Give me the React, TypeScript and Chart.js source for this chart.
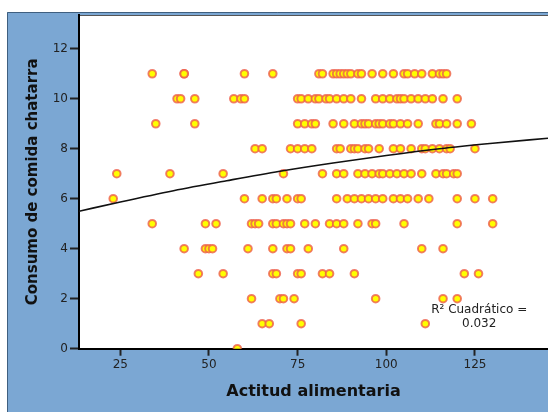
import React, { useEffect, useRef } from "react";
import { Chart, registerables } from "chart.js";

Chart.register(...registerables);

// Consumo de comida chatarra (y) -> Actitud alimentaria values (x)
const consumo11 = [34, 43, 43, 60, 68, 81, 82, 85, 86, 87, 88, 89, 90, 92, 93, 96, 99, 102, 105, 106, 108, 110, 113, 115, 116, 117];
const consumo10 = [41, 42, 46, 57, 59, 60, 75, 76, 78, 80, 81, 83, 84, 86, 88, 90, 93, 97, 99, 101, 103, 104, 105, 107, 109, 111, 113, 116, 120];
const consumo9 = [35, 46, 75, 77, 79, 80, 85, 88, 91, 93, 94, 95, 97, 98, 99, 101, 102, 104, 106, 109, 114, 115, 117, 120, 124];
const consumo8 = [63, 65, 73, 75, 77, 79, 86, 87, 90, 91, 92, 94, 95, 98, 102, 104, 107, 110, 111, 113, 115, 117, 118, 125];
const consumo7 = [24, 39, 54, 71, 82, 86, 88, 92, 94, 96, 98, 99, 101, 103, 105, 107, 110, 114, 116, 117, 119, 120];
const consumo6 = [23, 60, 65, 68, 69, 72, 75, 76, 86, 89, 91, 93, 95, 97, 99, 102, 104, 106, 109, 112, 120, 125, 130];
const consumo5 = [34, 49, 52, 62, 63, 64, 68, 69, 71, 72, 73, 77, 80, 84, 86, 88, 92, 96, 97, 105, 120, 130];
const consumo4 = [43, 49, 50, 51, 61, 68, 72, 73, 78, 88, 110, 116];
const consumo3 = [47, 54, 68, 69, 75, 76, 82, 84, 91, 122, 126];
const consumo2 = [62, 70, 71, 74, 97, 116, 120];
const consumo1 = [65, 67, 76, 111];
const consumo0 = [58];

const rows: [number, number[]][] = [
  [11, consumo11], [10, consumo10], [9, consumo9], [8, consumo8], [7, consumo7], [6, consumo6],
  [5, consumo5], [4, consumo4], [3, consumo3], [2, consumo2], [1, consumo1], [0, consumo0],
];

// Quadratic fit line
const fitX = [13.35, 25, 40, 55, 70, 85, 100, 115, 130, 145.6];
const fitY = [5.5, 5.87, 6.32, 6.72, 7.1, 7.43, 7.73, 8.0, 8.22, 8.42];

const xTicks = [25, 50, 75, 100, 125];
const yTicks = [0, 2, 4, 6, 8, 10, 12];
const xRange = [13.35, 145.6];
const yRange = [0, 13.35];

const r2Label = ["R² Cuadrático =", "0.032"];
const r2Pos = { x: 126.2, y: [1.55, 0.99] };

const FONT = "'DejaVu Sans', Verdana, sans-serif";

const bgPlugin = {
  id: "bgPlugin",
  beforeDraw(chart: any) {
    const { ctx, chartArea, width, height } = chart;
    ctx.save();
    ctx.fillStyle = "#ffffff";
    ctx.fillRect(0, 0, width, height);
    ctx.fillStyle = "#7ba7d3";
    ctx.fillRect(7, 12, width - 7, height - 12);
    ctx.strokeStyle = "#3f5f7f";
    ctx.lineWidth = 1;
    ctx.beginPath();
    ctx.moveTo(7.5, height);
    ctx.lineTo(7.5, 12.5);
    ctx.lineTo(width, 12.5);
    ctx.stroke();
    ctx.fillStyle = "#ffffff";
    ctx.fillRect(chartArea.left, chartArea.top, chartArea.right - chartArea.left, chartArea.bottom - chartArea.top);
    ctx.strokeStyle = "#555555";
    ctx.beginPath();
    ctx.moveTo(chartArea.left, chartArea.top + 0.5);
    ctx.lineTo(chartArea.right, chartArea.top + 0.5);
    ctx.stroke();
    ctx.restore();
  },
  afterDraw(chart: any) {
    const { ctx, scales } = chart;
    ctx.save();
    ctx.fillStyle = "#222222";
    ctx.font = `12px ${FONT}`;
    ctx.textAlign = "center";
    ctx.textBaseline = "middle";
    const px = scales.x.getPixelForValue(r2Pos.x);
    r2Label.forEach((t, i) => {
      ctx.fillText(t, px, scales.y.getPixelForValue(r2Pos.y[i]));
    });
    ctx.restore();
  },
};

export default function App() {
  const ref = useRef<HTMLCanvasElement>(null);
  useEffect(() => {
    if (!ref.current) return;
    const points: { x: number; y: number }[] = [];
    rows.forEach(([y, xs]) => xs.forEach((x) => points.push({ x, y })));
    const chart = new Chart(ref.current, {
      type: "scatter",
      data: {
        datasets: [
          {
            type: "line",
            data: fitX.map((x, i) => ({ x, y: fitY[i] })),
            borderColor: "#111111",
            borderWidth: 1.6,
            pointRadius: 0,
            cubicInterpolationMode: "monotone",
            clip: 0,
            order: 0,
          } as any,
          {
            data: points,
            backgroundColor: "#ffff00",
            borderColor: "rgba(238,95,75,0.8)",
            borderWidth: 2,
            pointRadius: 3.8,
            clip: 0,
            order: 1,
          } as any,
        ],
      },
      options: {
        responsive: false,
        animation: false,
        events: [],
        layout: { autoPadding: false, padding: { left: 7, top: 15, right: 0, bottom: 0 } },
        plugins: { legend: { display: false }, tooltip: { enabled: false } },
        scales: {
          x: {
            type: "linear",
            min: xRange[0],
            max: xRange[1],
            z: 1,
            afterBuildTicks: (s: any) => { s.ticks = xTicks.map((v) => ({ value: v })); },
            afterFit: (s: any) => { s.height = 63.3; s.paddingLeft = 0; s.paddingRight = 0; },
            grid: { drawOnChartArea: false, drawTicks: true, tickLength: 7, tickColor: "#222", tickWidth: 2 },
            border: { display: true, color: "#000", width: 2 },
            ticks: { color: "#222", font: { size: 12, family: FONT }, padding: 2, maxRotation: 0 },
            title: {
              display: true,
              text: "Actitud alimentaria",
              color: "#111",
              font: { size: 16, weight: "bold", family: FONT },
              padding: { top: 0, bottom: 10.4 },
            },
          },
          y: {
            type: "linear",
            min: yRange[0],
            max: yRange[1],
            z: 1,
            afterBuildTicks: (s: any) => { s.ticks = yTicks.map((v) => ({ value: v })); },
            afterFit: (s: any) => { s.width = 72; s.paddingTop = 0; s.paddingBottom = 0; },
            grid: { drawOnChartArea: false, drawTicks: true, tickLength: 9, tickColor: "#222", tickWidth: 2 },
            border: { display: true, color: "#000", width: 2 },
            ticks: { color: "#222", font: { size: 12, family: FONT }, padding: 2 },
            title: {
              display: true,
              text: "Consumo de comida chatarra",
              color: "#111",
              font: { size: 15, weight: "bold", family: FONT },
              padding: { top: 17, bottom: 0 },
            },
          },
        },
      },
      plugins: [bgPlugin],
    });
    return () => chart.destroy();
  }, []);
  return (
    <div style={{ position: "fixed", left: 0, top: 0, width: 548, height: 412 }}>
      <canvas ref={ref} width={548} height={412} />
    </div>
  );
}
